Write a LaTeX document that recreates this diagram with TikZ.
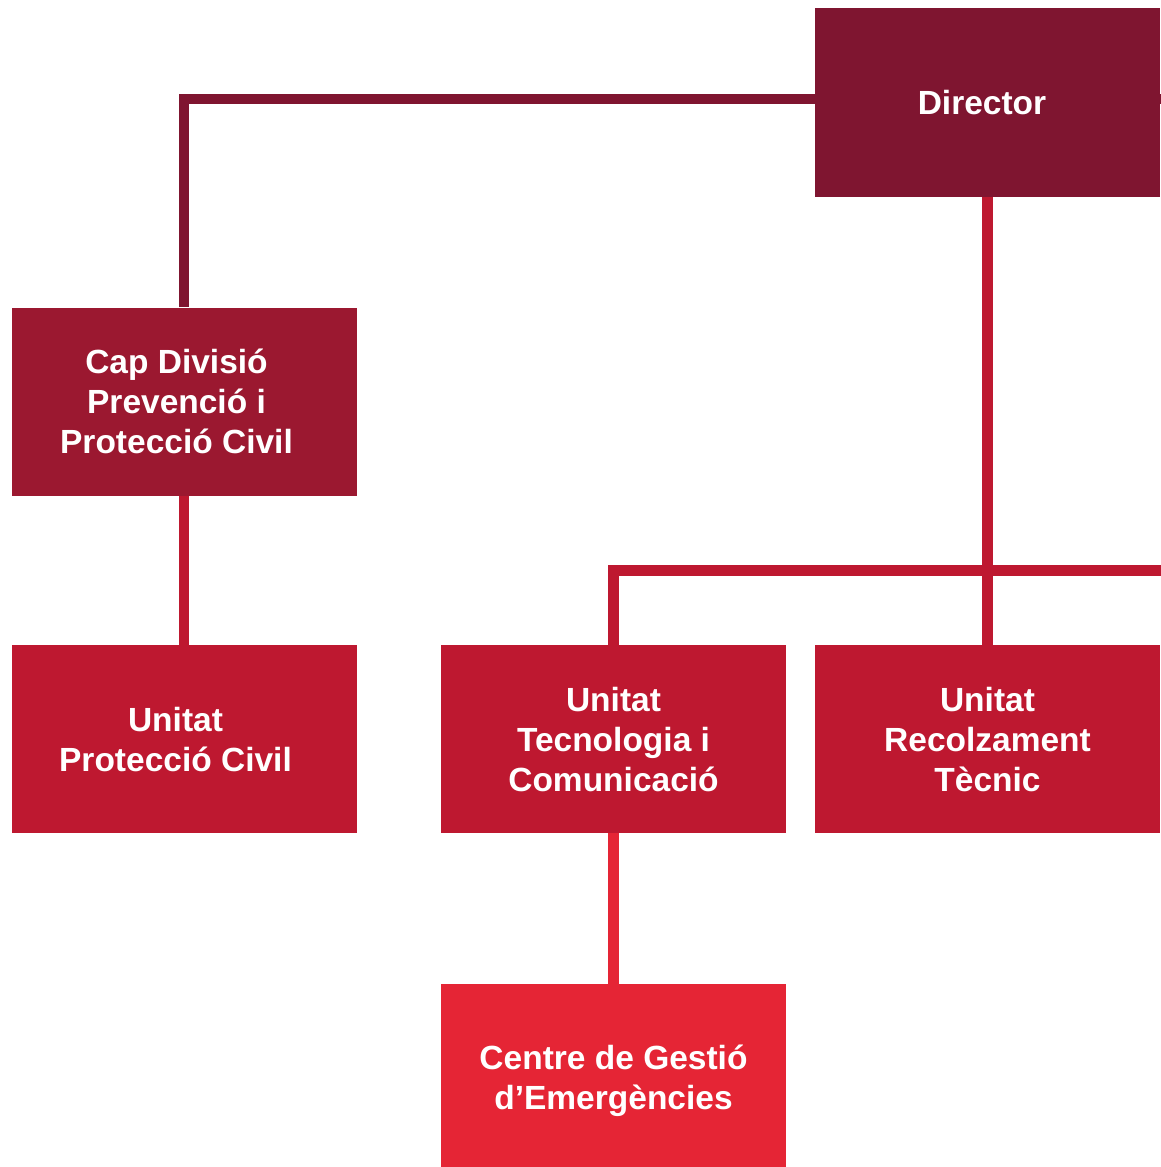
\documentclass[tikz,border=0pt]{standalone}
\usepackage{fontspec}
\setmainfont{Liberation Sans}
\usetikzlibrary{backgrounds}
\definecolor{cdir}{HTML}{7F1530}
\definecolor{ccap}{HTML}{9B1830}
\definecolor{cuni}{HTML}{BE1830}
\definecolor{ccen}{HTML}{E52535}
\newcommand{\lowerln}[1]{\raisebox{-5pt}[\height][\depth]{#1}}
\begin{document}
\begin{tikzpicture}[x=1pt,y=-1pt,
  box/.style={inner sep=0pt,minimum width=345pt,minimum height=188pt,align=center,text=white,
    font=\fontsize{33.5}{40}\selectfont\bfseries},
  conn/.style={line width=10.5pt}]
\useasboundingbox (0,0) rectangle (1161,1167);
\coordinate (re1) at (1161,99);
\coordinate (re2) at (1161,570.7);
\node[box,fill=cdir,minimum height=189pt] (dir) at (987.5,102.5) {\hspace*{-11pt}Director};
\node[box,fill=ccap] (cap) at (184.5,401.5) {\hspace*{-16pt}Cap Divisió\\\hspace*{-16pt}Prevenció i\\\hspace*{-16pt}Protecció Civil};
\node[box,fill=cuni] (upc) at (184.5,739.2) {\hspace*{-18pt}Unitat\\\hspace*{-18pt}Protecció Civil};
\node[box,fill=cuni] (utc) at (613.5,739.2) {Unitat\\Tecnologia i\\Comunicació};
\node[box,fill=cuni] (urt) at (987.5,739.2) {Unitat\\Recolzament\\Tècnic};
\node[box,fill=ccen,minimum height=183pt] (cge) at (613.5,1075.5) {\lowerln{Centre de Gestió}\\\lowerln{d’Emergències}};
\begin{scope}[on background layer]
\draw[conn,cdir] ([xshift=-0.5pt]cap.north) |- (re1);
\draw[conn,cuni] ([xshift=-0.5pt]cap.south) -- ([xshift=-0.5pt]upc.north);
\draw[conn,cuni] (dir.south) -- (urt.north);
\draw[conn,cuni] (utc.north) |- (re2);
\draw[conn,ccen] (utc.south) -- (cge.north);
\end{scope}
\end{tikzpicture}
\end{document}
